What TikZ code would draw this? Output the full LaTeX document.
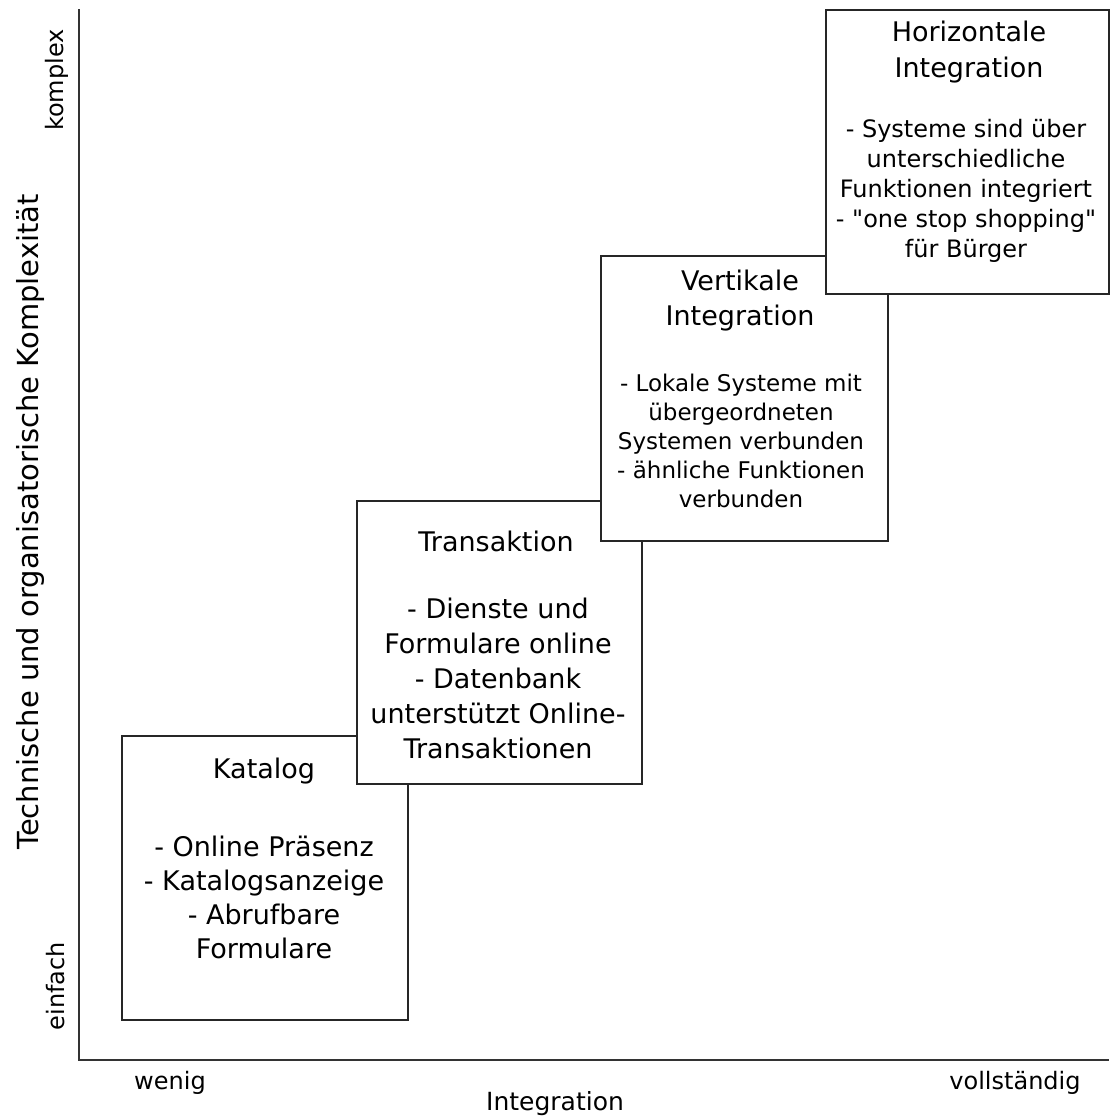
\documentclass[tikz,border=0pt]{standalone}
\usepackage{fontspec}
\setmainfont{DejaVu Sans}
\newcommand\straightdq{\XeTeXglyph\XeTeXglyphindex "quotedbl"\relax}
\begin{document}
\begin{tikzpicture}[x=1pt,y=-1pt,
  stage/.style={draw=black!85, line width=2pt, fill=white, inner sep=0pt, anchor=north west},
  ax/.style={draw=black!80, line width=2.2pt},
  lbl/.style={inner sep=0pt, font=\fontsize{24}{28}\selectfont},
  ttl/.style={inner sep=0pt, align=center, font=\fontsize{27}{35}\selectfont},
  body/.style={inner sep=0pt, align=center}]
\useasboundingbox (0,0) rectangle (1109,1117);
% axes
\coordinate (ytop) at (79,9);
\coordinate (orig) at (79,1060);
\coordinate (xend) at (1109,1060);
\draw[ax] (ytop) -- (orig) -- (xend);
\node[lbl, rotate=90] (komplex) at (57,80) {komplex};
\node[lbl, rotate=90] (einfach) at (56,986) {einfach};
\node[lbl] (wenig) at (170,1083) {wenig};
\node[lbl] (voll) at (1015,1083) {vollständig};
\node[lbl, font=\fontsize{25}{28}\selectfont] (xlab) at (555,1104) {Integration};
\node[lbl, rotate=90, font=\fontsize{29}{32}\selectfont] (ylab) at (30,522) {Technische und organisatorische Komplexität};
% boxes
\node[stage, minimum width=286pt, minimum height=284pt] (kat) at (121,735) {};
\node[ttl] (katT) at (264,771) {Katalog};
\node[body, font=\fontsize{27}{34}\selectfont] (katB) at (264,897) {- Online Präsenz\\- Katalogsanzeige\\- Abrufbare\\Formulare};
\node[stage, minimum width=285pt, minimum height=283pt] (tra) at (356,500) {};
\node[ttl] (traT) at (496,541) {Transaktion};
\node[body, font=\fontsize{27}{35}\selectfont] (traB) at (498,678) {- Dienste und\\Formulare online\\- Datenbank\\unterstützt Online-\\Transaktionen};
\node[stage, minimum width=287pt, minimum height=285pt] (ver) at (600,255) {};
\node[ttl] (verT) at (740,301) {Vertikale\\Integration};
\node[body, font=\fontsize{23}{29}\selectfont] (verB) at (741,441) {- Lokale Systeme mit\\übergeordneten\\Systemen verbunden\\- ähnliche Funktionen\\verbunden};
\node[stage, minimum width=283pt, minimum height=284pt] (hor) at (825,9) {};
\node[ttl, font=\fontsize{27}{36}\selectfont] (horT) at (969,52) {Horizontale\\Integration};
\node[body, font=\fontsize{24}{30}\selectfont] (horB) at (966,191) {- Systeme sind über\\unterschiedliche\\Funktionen integriert\\- \straightdq one stop shopping\straightdq\\für Bürger};
\end{tikzpicture}
\end{document}
